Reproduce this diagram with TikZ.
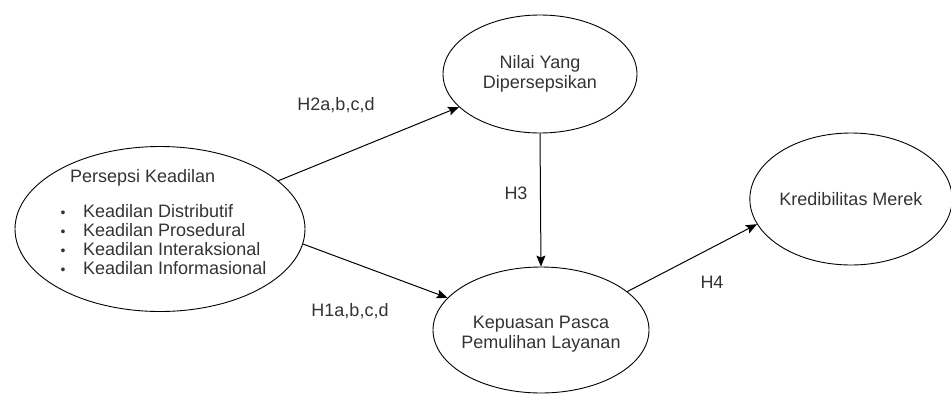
\documentclass[tikz,border=0pt]{standalone}
\usepackage{fontspec}
\setmainfont{Liberation Sans}
\usetikzlibrary{shapes.geometric,arrows.meta}
\definecolor{txt}{HTML}{333333}
\tikzset{
  oval/.style={ellipse, draw=black, line width=0.9pt, inner sep=0pt, text=txt, align=center,
    font=\fontsize{18}{20.5}\selectfont},
  lbl/.style={text=txt, inner sep=0pt, font=\fontsize{18}{20.5}\selectfont},
  conn/.style={draw=black, line width=1pt, -{Stealth[length=11pt,width=9pt,inset=2pt]}}
}
\newcommand{\blt}{\makebox[0pt]{\fontsize{14}{14}\selectfont\textbullet}\hspace{20pt}}
\begin{document}
\begin{tikzpicture}[x=1pt,y=-1pt]
\useasboundingbox (0,0) rectangle (951,394);
\node[oval, minimum width=290pt, minimum height=165pt] (pk) at (160,229) {};
\node[lbl, anchor=base west] (pkt) at (70,182) {Persepsi Keadilan};
\node[lbl, anchor=base west, align=left, font=\fontsize{18}{19.3}\selectfont] (pkl) at (63,217)
  {\begin{tabular}[t]{@{}l@{}}
   \blt Keadilan Distributif\\
   \blt Keadilan Prosedural\\
   \blt Keadilan Interaksional\\
   \blt Keadilan Informasional
   \end{tabular}};
\node[oval, minimum width=194pt, minimum height=118pt] (nv) at (540,74) {Nilai Yang\\Dipersepsikan};
\node[oval, minimum width=216pt, minimum height=126pt] (kp) at (541,330) {};
\node[lbl, align=center] (kpt) at (541,334) {Kepuasan Pasca\\Pemulihan Layanan};
\node[oval, minimum width=196pt, minimum height=132pt] (km) at (851,199) {Kredibilitas Merek};

\draw[conn] (pk) -- (nv);
\draw[conn] (pk.-6) -- (kp.161.4);
\draw[conn] (nv.south) -- (kp.north);
\draw[conn] (kp.24.9) -- (km.195.5);

\node[lbl] (h2) at (336,105) {H2a,b,c,d};
\node[lbl] (h1) at (350,311) {H1a,b,c,d};
\node[lbl] (h3) at (516,193) {H3};
\node[lbl] (h4) at (712,282) {H4};
\end{tikzpicture}
\end{document}
